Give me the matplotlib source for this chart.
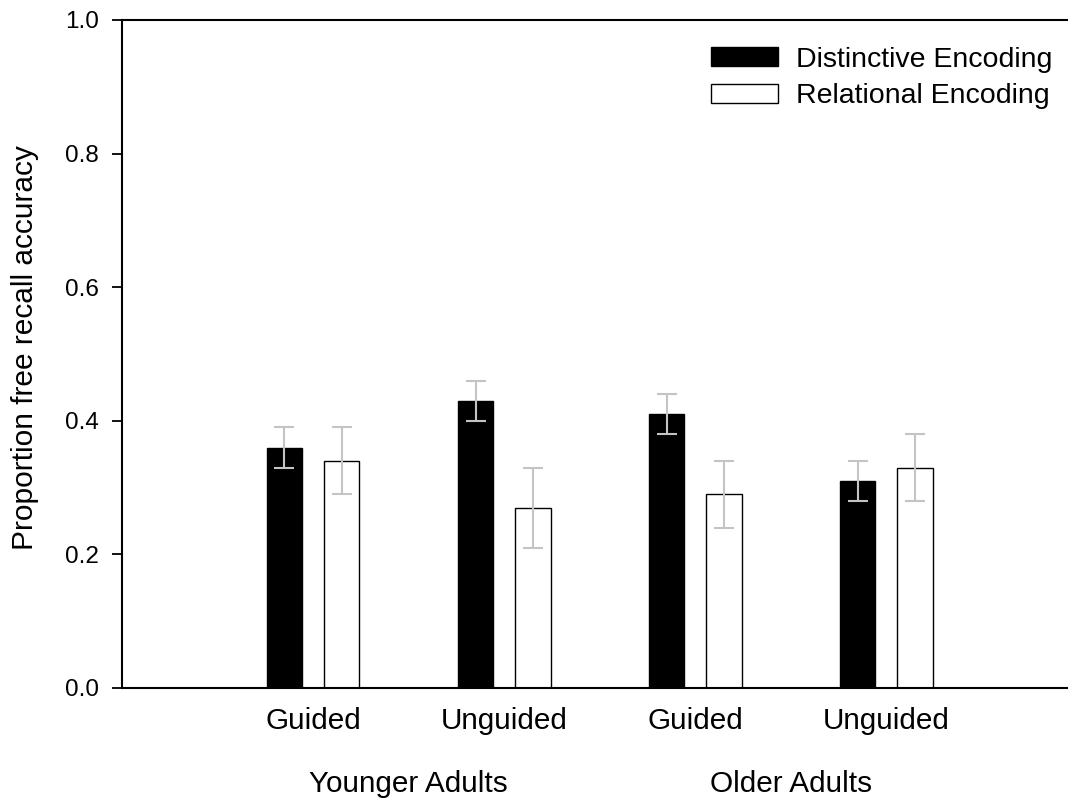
import matplotlib.pyplot as plt
import numpy as np

plt.rcParams['font.family'] = ['Liberation Sans', 'DejaVu Sans']

# data
conditions = ['Guided', 'Unguided', 'Guided', 'Unguided']
age_groups = ['Younger Adults', 'Older Adults']
distinctive = [0.36, 0.43, 0.41, 0.31]
distinctive_err = [0.03, 0.03, 0.03, 0.03]
relational = [0.34, 0.27, 0.29, 0.33]
relational_err = [0.05, 0.06, 0.05, 0.05]
yticks = [0.0, 0.2, 0.4, 0.6, 0.8, 1.0]

fig = plt.figure(figsize=(10.68, 7.99), dpi=100)
ax = fig.add_axes([122 / 1068, 1 - 688 / 799, 946 / 1068, 668 / 799])

x = np.arange(1, len(conditions) + 1)
w = 0.185
off = 0.15

ax.bar(x - off, distinctive, w, color='black', edgecolor='black', linewidth=1.0,
       label='Distinctive Encoding', zorder=2)
ax.bar(x + off, relational, w, color='white', edgecolor='black', linewidth=1.0,
       label='Relational Encoding', zorder=2)

ax.errorbar(x - off, distinctive, yerr=distinctive_err, fmt='none', ecolor='#c4c4c4',
            elinewidth=1.5, capsize=7.5, capthick=1.5, zorder=3)
ax.errorbar(x + off, relational, yerr=relational_err, fmt='none', ecolor='#c4c4c4',
            elinewidth=1.5, capsize=7.5, capthick=1.5, zorder=3)

ax.set_xlim(0, 4.95)
ax.set_ylim(0, 1.0)
ax.set_yticks(yticks)
ax.set_yticklabels(['%.1f' % t for t in yticks])
ax.set_xticks(x)
ax.set_xticklabels(conditions)

ax.tick_params(axis='y', direction='out', length=7.5, width=1.3, pad=9, labelsize=17.5)
ax.tick_params(axis='x', length=0, pad=14, labelsize=21.4)

for s in ['left', 'bottom', 'top']:
    ax.spines[s].set_linewidth(1.5)
ax.spines['right'].set_visible(False)

ax.set_ylabel('Proportion free recall accuracy', fontsize=21.5)
ax.yaxis.set_label_coords(-0.088, 0.51)

# group labels
for gx, name in zip([1.5, 3.5], age_groups):
    ax.text(gx, -0.1557, name, transform=ax.get_xaxis_transform(),
            ha='center', va='baseline', fontsize=21.4)

ax.legend(loc='upper right', bbox_to_anchor=(0.983, 0.96), frameon=False,
          fontsize=20.5, handlelength=2.35, handleheight=0.67, handletextpad=0.63,
          labelspacing=0.37, borderpad=0, borderaxespad=0)

fig.savefig('out.png', dpi=100)
